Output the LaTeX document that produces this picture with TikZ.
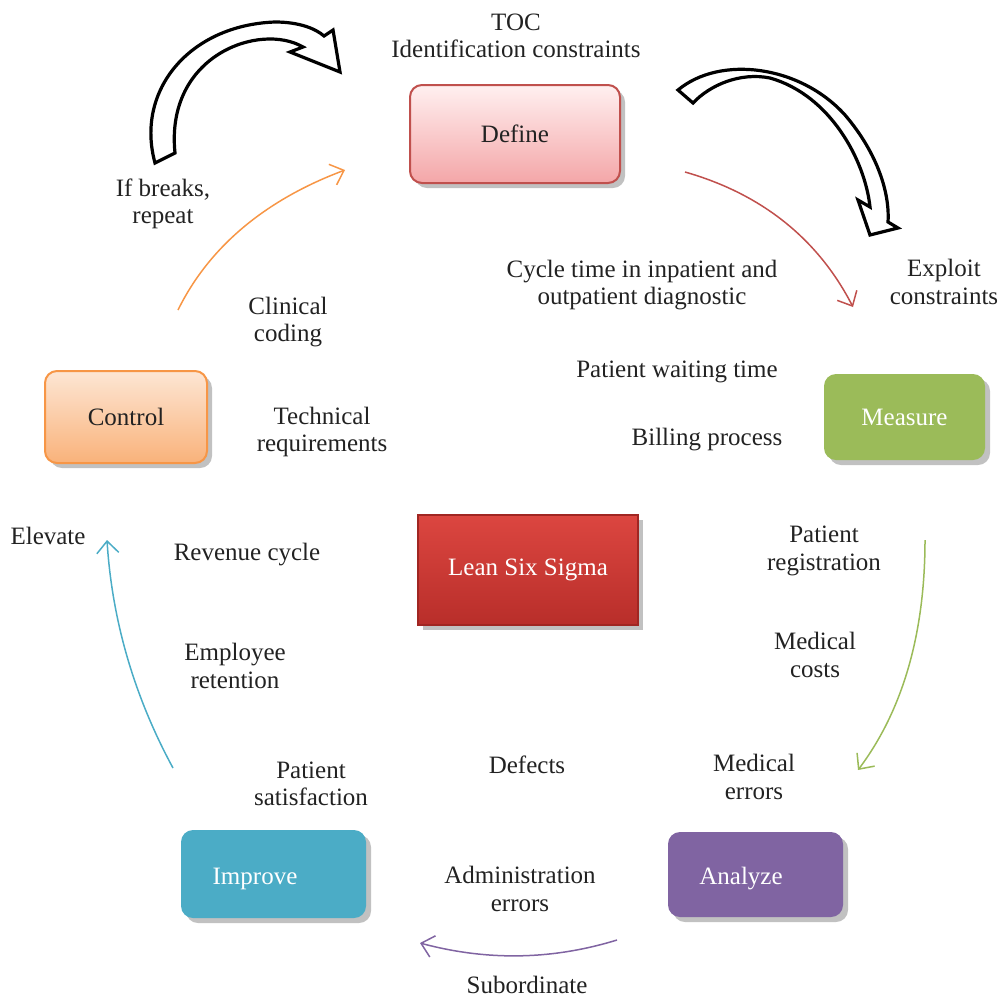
\documentclass[tikz,border=0pt]{standalone}
\usepackage{fontspec}
\setmainfont{Liberation Serif}
\usetikzlibrary{arrows.meta,shadows}
\definecolor{cred}{HTML}{C0504D}
\definecolor{cgreen}{HTML}{9BBB59}
\definecolor{cpurple}{HTML}{8064A2}
\definecolor{cteal}{HTML}{4BACC6}
\definecolor{corange}{HTML}{F79646}
\definecolor{txt}{HTML}{222222}
\begin{document}
\begin{tikzpicture}[x=0.5pt,y=-0.5pt,font=\fontsize{12.5}{13.7}\selectfont]
\tikzset{
  lbl/.style={align=center,text=txt,inner sep=0pt},
  boxtext/.style={text=white,inner sep=0pt},
  shade/.style={drop shadow={shadow xshift=2.5pt,shadow yshift=-2.5pt,opacity=0.35,fill=black!70}},
  rbox/.style={rounded corners=6pt,inner sep=0pt,shade},
  flow/.style={line width=0.75pt,-{Straight Barb[length=6pt,width=11pt,line width=0.75pt]}},
  block/.style={draw=black,fill=white,line width=1.6pt,line join=miter}
}
\useasboundingbox (0,0) rectangle (1000,997);

% boxes
\node[rbox,draw=cred,line width=1pt,top color=red!6!white,bottom color={rgb,255:red,244;green,166;blue,168},
      minimum width=105pt,minimum height=49pt,text=txt] (define) at (515,134) {Define};
\node[rbox,draw=corange,line width=1pt,top color={rgb,255:red,253;green,230;blue,212},bottom color={rgb,255:red,249;green,178;blue,122},
      minimum width=81pt,minimum height=46pt,text=txt] (control) at (126,417) {Control};
\node[rbox,fill=cgreen,minimum width=80.5pt,minimum height=43pt,text=white] (measure) at (904.5,417) {Measure};
\node[rbox,fill=cpurple,minimum width=87.5pt,minimum height=42.5pt] (analyze) at (755.5,874.5) {};
\node[boxtext] (analyzet) at (741,879) {Analyze};
\node[rbox,fill=cteal,minimum width=92.5pt,minimum height=44pt] (improve) at (273.5,874) {};
\node[boxtext] (improvet) at (255,879) {Improve};
\node[draw={rgb,255:red,160;green,38;blue,34},line width=0.8pt,top color={rgb,255:red,220;green,70;blue,64},bottom color={rgb,255:red,184;green,46;blue,42},
      shade,minimum width=110pt,minimum height=55pt,inner sep=0pt,text=white] (lss) at (528,570) {Lean Six Sigma};

% labels
\node[lbl] (toc) at (516,36) {TOC\\Identification constraints};
\node[lbl] (ifb) at (163,204) {If breaks,\\repeat};
\node[lbl] (cyc) at (642,285) {Cycle time in inpatient and\\outpatient diagnostic};
\node[lbl] (expl) at (944,282) {Exploit\\constraints};
\node[lbl] (pwt) at (677,372) {Patient waiting time};
\node[lbl] (bill) at (707,440) {Billing process};
\node[lbl] (clin) at (288,322) {Clinical\\coding};
\node[lbl] (tech) at (322,432) {Technical\\requirements};
\node[lbl] (elev) at (48,536) {Elevate};
\node[lbl] (rev) at (247,555) {Revenue cycle};
\node[lbl] (preg) at (824,551) {Patient\\registration};
\node[lbl] (mcost) at (815,655) {Medical\\costs};
\node[lbl] (emp) at (235,666) {Employee\\retention};
\node[lbl] (psat) at (311,784) {Patient\\satisfaction};
\node[lbl] (def) at (527,765) {Defects};
\node[lbl] (merr) at (754,777) {Medical\\errors};
\node[lbl] (adm) at (520,889) {Administration\\errors};
\node[lbl] (sub) at (527,985) {Subordinate};

% cycle arrows
\coordinate (r1) at (685,172); \coordinate (r2) at (853,307);
\draw[flow,cred] (r1) .. controls (762,194) and (818,239) .. (r2);
\coordinate (g1) at (925,540); \coordinate (g2) at (858,770);
\draw[flow,cgreen] (g1) .. controls (925,633) and (903,710) .. (g2);
\coordinate (p1) at (617,940); \coordinate (p2) at (420,943);
\draw[flow,cpurple] (p1) .. controls (552,960) and (487,961) .. (p2);
\coordinate (t1) at (173,768); \coordinate (t2) at (107,540);
\draw[flow,cteal] (t1) .. controls (134,696) and (112,620) .. (t2);
\coordinate (o1) at (178,310); \coordinate (o2) at (345,170);
\draw[flow,corange] (o1) .. controls (209,247) and (265,200) .. (o2);

% block arrows
\draw[block] (155,163) .. controls (135,90) and (190,25) .. (275,22)
  .. controls (300,22) and (316,29) .. (324,36) -- (333,30) -- (340,72) -- (290,52) -- (303,47)
  .. controls (260,22) and (165,55) .. (175,153) -- cycle;
\draw[block] (678,90) .. controls (720,55) and (800,65) .. (845,115)
  .. controls (875,150) and (890,190) .. (888,222) -- (898,228) -- (870,235) -- (858,200) -- (870,207)
  .. controls (865,160) and (830,95) .. (770,78) .. controls (740,72) and (710,85) .. (693,103) -- cycle;
\end{tikzpicture}
\end{document}
